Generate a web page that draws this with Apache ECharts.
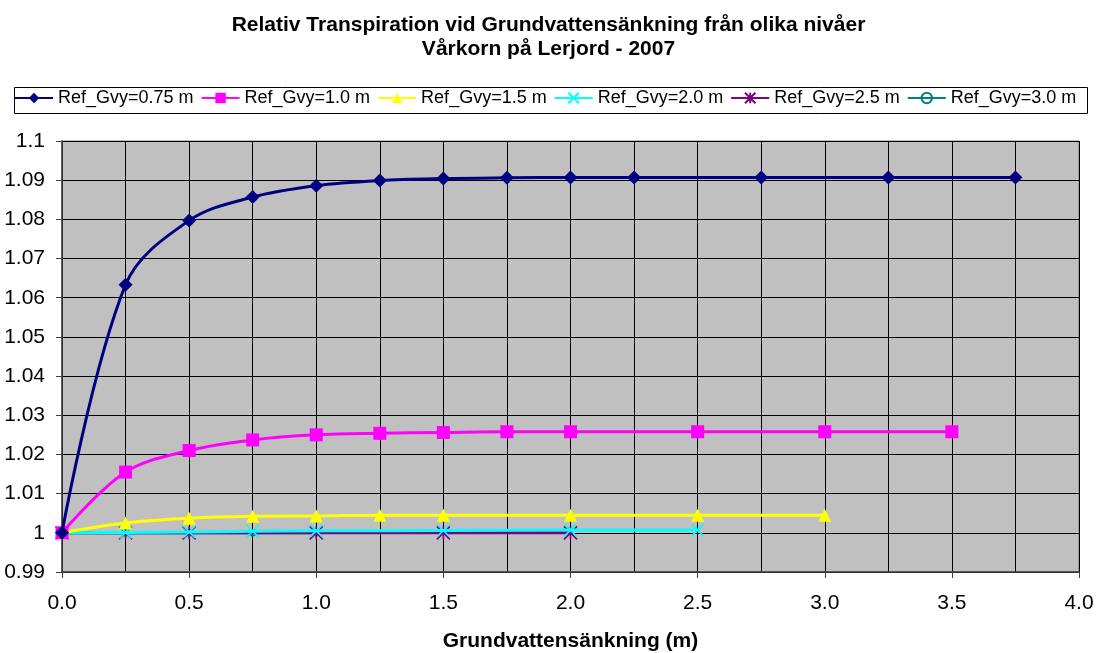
<!DOCTYPE html>
<html><head><meta charset="utf-8">
<script src="https://cdn.jsdelivr.net/npm/echarts@6/dist/echarts.min.js"></script>
<style>html,body{margin:0;padding:0;background:#fff}#c{width:1097px;height:653px}</style>
</head><body><div id="c"></div>
<script>
const titleText = 'Relativ Transpiration vid Grundvattensänkning från olika nivåer\nVårkorn på Lerjord - 2007';
const xAxisName = 'Grundvattensänkning (m)';
const seriesNames = ['Ref_Gvy=0.75 m','Ref_Gvy=1.0 m','Ref_Gvy=1.5 m','Ref_Gvy=2.0 m','Ref_Gvy=2.5 m','Ref_Gvy=3.0 m'];

const x075 = [0,0.25,0.5,0.75,1.0,1.25,1.5,1.75,2.0,2.25,2.75,3.25,3.75];
const y075 = [1.0,1.0633,1.0797,1.0857,1.0886,1.0899,1.0904,1.0906,1.0907,1.0907,1.0907,1.0907,1.0907];
const x10 = [0,0.25,0.5,0.75,1.0,1.25,1.5,1.75,2.0,2.5,3.0,3.5];
const y10 = [1.0,1.0155,1.0210,1.0237,1.0250,1.0254,1.0256,1.0258,1.0258,1.0258,1.0258,1.0258];
const x15 = [0,0.25,0.5,0.75,1.0,1.25,1.5,2.0,2.5,3.0];
const y15 = [1.0,1.0025,1.0037,1.0042,1.0043,1.0045,1.0045,1.0045,1.0045,1.0045];
const x20 = [0,0.25,0.5,0.75,1.0,1.5,2.0,2.5];
const y20 = [1.0,1.0001,1.0002,1.0004,1.0005,1.0006,1.0007,1.0007];
const x25 = [0,0.25,0.5,1.0,1.5,2.0];
const y25 = [1.0,1.0,1.0,1.0,1.0,1.0];
const x30 = [0,0.25,0.5,0.75,1.0];
const y30 = [1.0,1.0,1.0,1.0,1.0];

const pair = (xs, ys) => xs.map((x, i) => [x, ys[i]]);
const colors = ['#000080','#FF00FF','#FFFF00','#00FFFF','#800080','#008080'];
const symbols = ['diamond','rect','triangle',
  'path://M0,0L10,10M10,0L0,10',
  'path://M0,0L10,10M10,0L0,10M5,0L5,10',
  'circle'];
const sizes = [14,13,13,12,13,6];
const datas = [pair(x075,y075),pair(x10,y10),pair(x15,y15),pair(x20,y20),pair(x25,y25),pair(x30,y30)];
const strokeSym = [false,false,false,true,true,true];

const series = datas.map((d, i) => ({
  name: seriesNames[i],
  type: 'line',
  data: d,
  smooth: 0.35,
  symbol: symbols[i],
  symbolSize: sizes[i],
  showAllSymbol: true,
  z: 10 - i,
  lineStyle: { color: colors[i], width: 3 },
  itemStyle: strokeSym[i]
    ? { color: i === 5 ? 'rgba(0,0,0,0)' : colors[i], borderColor: colors[i], borderWidth: 1.6 }
    : { color: colors[i], borderWidth: 0 },
  emphasis: { disabled: true }
}));

const FONT = 'Liberation Sans, Arial';
const chart = echarts.init(document.getElementById('c'), null, { renderer: 'canvas' });
chart.setOption({
  animation: false,
  backgroundColor: '#fff',
  title: {
    text: titleText, left: 'center', top: 8,
    textStyle: { fontFamily: FONT, fontSize: 21, fontWeight: 'bold', color: '#000', lineHeight: 24 }
  },
  graphic: [{
    type: 'rect', left: 12, top: 85, z: 100, silent: true,
    shape: { width: 1073, height: 26 },
    style: { fill: 'none', stroke: '#000', lineWidth: 1 }
  }],
  legend: {
    top: 87, left: 10,
    data: seriesNames,
    itemWidth: 38, itemHeight: 13, itemGap: 7,
    padding: [2, 4, 2, 4],
    textStyle: { fontFamily: FONT, fontSize: 18, color: '#000' }
  },
  grid: { left: 62, right: 18, top: 141, bottom: 81, outerBoundsMode: 'none', containLabel: false, show: true, backgroundColor: '#C0C0C0', borderColor: '#808080', borderWidth: 1 },
  xAxis: {
    type: 'value', min: 0, max: 4, interval: 0.5,
    name: xAxisName, nameLocation: 'middle', nameGap: 59,
    nameTextStyle: { fontFamily: FONT, fontSize: 21, fontWeight: 'bold', color: '#000' },
    axisLine: { show: true, lineStyle: { color: '#404040', width: 1.5 } },
    axisTick: { show: true, length: 6, lineStyle: { color: '#404040' } },
    axisLabel: { formatter: v => v.toFixed(1), margin: 21, fontFamily: FONT, fontSize: 21, color: '#000' },
    splitLine: { show: true, lineStyle: { color: '#000', width: 1 } },
    minorTick: { show: false, splitNumber: 2 },
    minorSplitLine: { show: true, lineStyle: { color: '#000', width: 1 } }
  },
  yAxis: {
    type: 'value', min: 0.99, max: 1.1, interval: 0.01,
    axisLine: { show: true, lineStyle: { color: '#404040', width: 1.5 } },
    axisTick: { show: true, length: 6, lineStyle: { color: '#404040' } },
    axisLabel: { formatter: v => String(parseFloat(v.toFixed(2))), margin: 17, fontFamily: FONT, fontSize: 21, color: '#000' },
    splitLine: { show: true, lineStyle: { color: '#000', width: 1 } }
  },
  series: series
});
</script></body></html>
